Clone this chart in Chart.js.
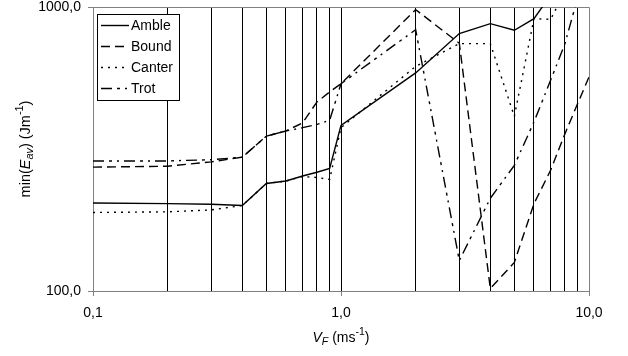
<!DOCTYPE html>
<html>
<head>
<meta charset="utf-8">
<script src="https://cdn.jsdelivr.net/npm/chart.js@4.4.0/dist/chart.umd.min.js"></script>
<style>
    html, body { margin: 0; padding: 0; background: #fff; }
    canvas { display: block; }
</style>
</head>
<body>
<canvas id="energyChart" width="628" height="356"></canvas>
<script>
// speeds (ms-1) where the curves have points; also used for the vertical grid
const speeds = [0.1, 0.2, 0.3, 0.4, 0.5, 0.6, 0.7, 0.8, 0.9, 1, 2, 3, 4, 5, 6, 7, 8, 9, 10];

// min(Eav) in Jm-1 for each gait (null = off the chart)
const amble  = [204, 203, 202, 200, 239, 244, 254, 262, 270, 383, 586, 806, 874, 828, 910, 1100, null, null, null];
const bound  = [273, 275, 285, 296, 351, 366, 391, 463, 502, 537, 979, 745, 102, 126, 203, 266, 358, 457, 567];
const canter = [189, 190, 193, 200, 239, 244, 253, 251, 247, 376, 618, 743, 743, 412, 910, 905, 1130, null, null];
const trot   = [287, 287, 290, 296, 351, 366, 376, 386, 399, 537, 832, 128, 212, 277, 394, 552, 743, 1080, null];

const xLabelTicks = [0.1, 1, 10];
const yTicks = [100, 1000];

const FONT = '"Liberation Sans", Arial, sans-serif';
const AXIS_GRAY = '#808080';

function toPoints(values) {
    return speeds.map((s, i) => ({ x: s, y: values[i] }));
}

function fmt(v) {
    return v.toFixed(1).replace('.', ',');
}

// draws text made of pieces (italic, subscript, superscript) centred on 0,0
function drawRich(ctx, parts, size) {
    const pieces = parts.map(p => {
        const s = p.sub || p.sup ? size * 0.75 : size;
        const font = (p.italic ? 'italic ' : '') + s + 'px ' + FONT;
        ctx.font = font;
        return { t: p.t, font: font, w: ctx.measureText(p.t).width, dy: p.sub ? size * 0.3 : (p.sup ? -size * 0.4 : 0) };
    });
    const total = pieces.reduce((a, p) => a + p.w, 0);
    let x = -total / 2;
    ctx.textBaseline = 'middle';
    ctx.textAlign = 'left';
    pieces.forEach(p => {
        ctx.font = p.font;
        ctx.fillText(p.t, x, p.dy);
        x += p.w;
    });
}

const frameAndTitles = {
    id: 'frameAndTitles',
    beforeDatasetsDraw(chart) {
        const { ctx, chartArea } = chart;
        ctx.save();
        ctx.strokeStyle = AXIS_GRAY;
        ctx.lineWidth = 1;
        ctx.beginPath();
        ctx.moveTo(chartArea.left, chartArea.top + 0.5);
        ctx.lineTo(chartArea.right + 0.5, chartArea.top + 0.5);
        ctx.lineTo(chartArea.right + 0.5, chartArea.bottom);
        ctx.stroke();
        ctx.restore();
    },
    afterDraw(chart) {
        const { ctx, chartArea } = chart;
        ctx.save();
        ctx.fillStyle = '#000';
        // x title
        ctx.translate((chartArea.left + chartArea.right) / 2, 338);
        drawRich(ctx, [
            { t: 'V', italic: true },
            { t: 'F', italic: true, sub: true },
            { t: ' (ms' },
            { t: '-1', sup: true },
            { t: ')' }
        ], 14);
        ctx.restore();

        ctx.save();
        ctx.fillStyle = '#000';
        ctx.translate(26, (chartArea.top + chartArea.bottom) / 2);
        ctx.rotate(-Math.PI / 2);
        drawRich(ctx, [
            { t: 'min(' },
            { t: 'E', italic: true },
            { t: 'av', italic: true, sub: true },
            { t: ') (Jm' },
            { t: '-1', sup: true },
            { t: ')' }
        ], 14.5);
        ctx.restore();
    }
};

const boxLegend = {
    id: 'boxLegend',
    afterDatasetsDraw(chart) {
        const { ctx, chartArea } = chart;
        const left = Math.round(chartArea.left + 4);
        const top = Math.round(chartArea.top + 7);
        const w = 82, h = 86, rowH = 21;
        ctx.save();
        ctx.fillStyle = '#fff';
        ctx.fillRect(left, top, w, h);
        ctx.strokeStyle = '#000';
        ctx.lineWidth = 1;
        ctx.strokeRect(left + 0.5, top + 0.5, w, h);
        chart.data.datasets.forEach((ds, i) => {
            const y = top + 11.5 + i * rowH;
            ctx.beginPath();
            ctx.setLineDash(ds.borderDash || []);
            ctx.lineWidth = ds.borderWidth;
            ctx.strokeStyle = ds.borderColor;
            ctx.moveTo(left + 4, y);
            ctx.lineTo(left + 32, y);
            ctx.stroke();
            ctx.setLineDash([]);
            ctx.fillStyle = '#000';
            ctx.font = '14px ' + FONT;
            ctx.textBaseline = 'middle';
            ctx.textAlign = 'left';
            ctx.fillText(ds.label, left + 34, y + 0.5);
        });
        ctx.restore();
    }
};

const ctx = document.getElementById('energyChart').getContext('2d');

new Chart(ctx, {
    type: 'line',
    data: {
        datasets: [
            { label: 'Amble',  data: toPoints(amble),  borderColor: '#000', borderWidth: 1.4, borderDash: [] },
            { label: 'Bound',  data: toPoints(bound),  borderColor: '#000', borderWidth: 1.4, borderDash: [9, 5] },
            { label: 'Canter', data: toPoints(canter), borderColor: '#000', borderWidth: 1.4, borderDash: [2, 5] },
            { label: 'Trot',   data: toPoints(trot),   borderColor: '#000', borderWidth: 1.4, borderDash: [11, 5, 3, 5, 2, 5] }
        ]
    },
    options: {
        responsive: false,
        animation: false,
        elements: {
            point: { radius: 0 },
            line: { tension: 0, fill: false }
        },
        layout: { padding: { top: 7, right: 39, left: 0, bottom: 0 } },
        plugins: {
            legend: { display: false },
            tooltip: { enabled: false }
        },
        scales: {
            x: {
                type: 'logarithmic',
                min: 0.1,
                max: 10,
                afterBuildTicks: scale => { scale.ticks = speeds.map(v => ({ value: v })); },
                afterFit: scale => { scale.height = 65; },
                border: { display: true, color: AXIS_GRAY, width: 1 },
                grid: {
                    drawTicks: true,
                    tickLength: 5,
                    color: c => (c.tick && (c.tick.value === 0.1 || c.tick.value === 10)) ? 'rgba(0,0,0,0)' : '#000',
                    tickColor: c => (c.tick && xLabelTicks.includes(c.tick.value)) ? AXIS_GRAY : 'rgba(0,0,0,0)'
                },
                ticks: {
                    autoSkip: false,
                    maxRotation: 0,
                    padding: 9,
                    color: '#000',
                    font: { family: FONT, size: 14 },
                    callback: v => xLabelTicks.includes(v) ? fmt(v) : ''
                }
            },
            y: {
                type: 'logarithmic',
                min: 100,
                max: 1000,
                afterBuildTicks: scale => { scale.ticks = yTicks.map(v => ({ value: v })); },
                afterFit: scale => {
                    scale.width = 93;
                    scale.paddingTop = 0;
                    scale.paddingBottom = 0;
                },
                border: { display: true, color: AXIS_GRAY, width: 1 },
                grid: {
                    drawOnChartArea: false,
                    drawTicks: true,
                    tickLength: 5,
                    tickColor: AXIS_GRAY
                },
                ticks: {
                    padding: 7,
                    color: '#000',
                    font: { family: FONT, size: 14 },
                    callback: v => fmt(v)
                }
            }
        }
    },
    plugins: [frameAndTitles, boxLegend]
});
</script>
</body>
</html>
